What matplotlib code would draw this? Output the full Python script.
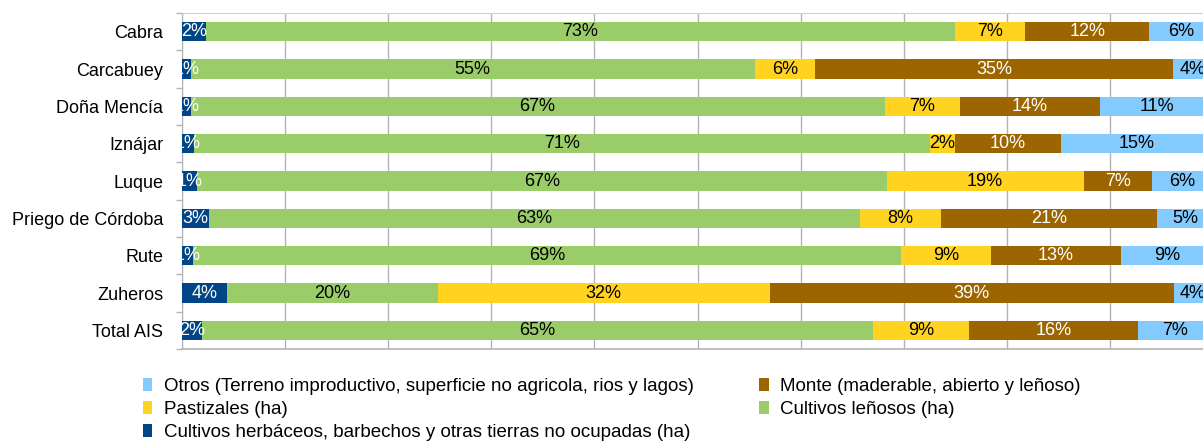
import numpy as np
import matplotlib
matplotlib.use("Agg")
from matplotlib import pyplot as plt
from matplotlib.ticker import MultipleLocator, FixedLocator

plt.rcParams['font.family'] = ['Liberation Sans', 'DejaVu Sans']

municipios = ["Cabra", "Carcabuey", "Doña Mencía", "Iznájar", "Luque",
              "Priego de Córdoba", "Rute", "Zuheros", "Total AIS"]

# shares (%)
herbaceos = [2.3, 0.84, 0.84, 1.16, 1.45, 2.6, 1.07, 4.4, 1.94]
lenosos = [72.7, 54.7, 67.3, 71.4, 66.9, 63.2, 68.7, 20.4, 65.1]
pastizales = [6.8, 5.9, 7.3, 2.4, 19.1, 7.8, 8.7, 32.2, 9.3]
monte = [12.0, 34.7, 13.6, 10.3, 6.6, 21.0, 12.6, 39.2, 16.4]
otros = [6.3, 3.8, 10.96, 14.7, 5.9, 5.4, 9.0, 3.6, 7.2]

series = [
    ("Cultivos herbáceos, barbechos y otras tierras no ocupadas (ha)", herbaceos, "#004586", "white"),
    ("Cultivos leñosos (ha)", lenosos, "#9acd6a", "black"),
    ("Pastizales (ha)", pastizales, "#ffd320", "black"),
    ("Monte (maderable, abierto y leñoso)", monte, "#9c6500", "white"),
    ("Otros (Terreno improductivo, superficie no agricola, rios y lagos)", otros, "#83caff", "black"),
]

fig = plt.figure(figsize=(12.03, 4.41), dpi=100)
ax = fig.add_axes([182 / 1203, 92 / 441, 1031 / 1203, 336 / 441])

y = np.arange(len(municipios))
left = np.zeros(len(municipios))
handles = {}
for name, vals, color, tcolor in series:
    vals = np.array(vals)
    bars = ax.barh(y, vals / 100.0, left=left, height=0.52, color=color, label=name, zorder=3)
    handles[name] = bars
    for yi, l, v in zip(y, left, vals):
        ax.text(l + v / 200.0, yi, f"{v:.0f}%", ha="center", va="center",
                fontsize=13, color=tcolor, zorder=4)
    left = left + vals / 100.0

ax.set_xlim(0, 1)
ax.set_ylim(len(municipios) - 0.5, -0.5)
ax.xaxis.set_major_locator(MultipleLocator(0.1))
ax.grid(axis="x", color="#b3b3b3", linewidth=1, zorder=0)
ax.tick_params(axis="x", length=0, labelbottom=False)
ax.set_yticks(y)
ax.set_yticklabels(municipios, fontsize=13)
ax.tick_params(axis="y", which="major", length=0, pad=13.5)
ax.yaxis.set_minor_locator(FixedLocator(np.arange(len(municipios) + 1) - 0.5))
ax.tick_params(axis="y", which="minor", length=4, color="#b3b3b3", width=1)
ax.spines["right"].set_visible(False)
ax.spines["top"].set_color("#d0d0d0")
ax.spines["left"].set_color("#b3b3b3")
ax.spines["bottom"].set_color("#b3b3b3")
ax.spines["bottom"].set_linewidth(1.2)

order = [series[4][0], series[2][0], series[0][0], series[3][0], series[1][0]]
fig.legend([handles[n] for n in order], order, loc="upper left",
           bbox_to_anchor=(143 / 1203, 1 - 378 / 441), ncol=2, frameon=False,
           fontsize=13.5, handlelength=0.5, handleheight=0.7, handletextpad=0.6,
           columnspacing=3.5, labelspacing=0.32, borderpad=0, borderaxespad=0)

fig.savefig("out.png", dpi=100)
